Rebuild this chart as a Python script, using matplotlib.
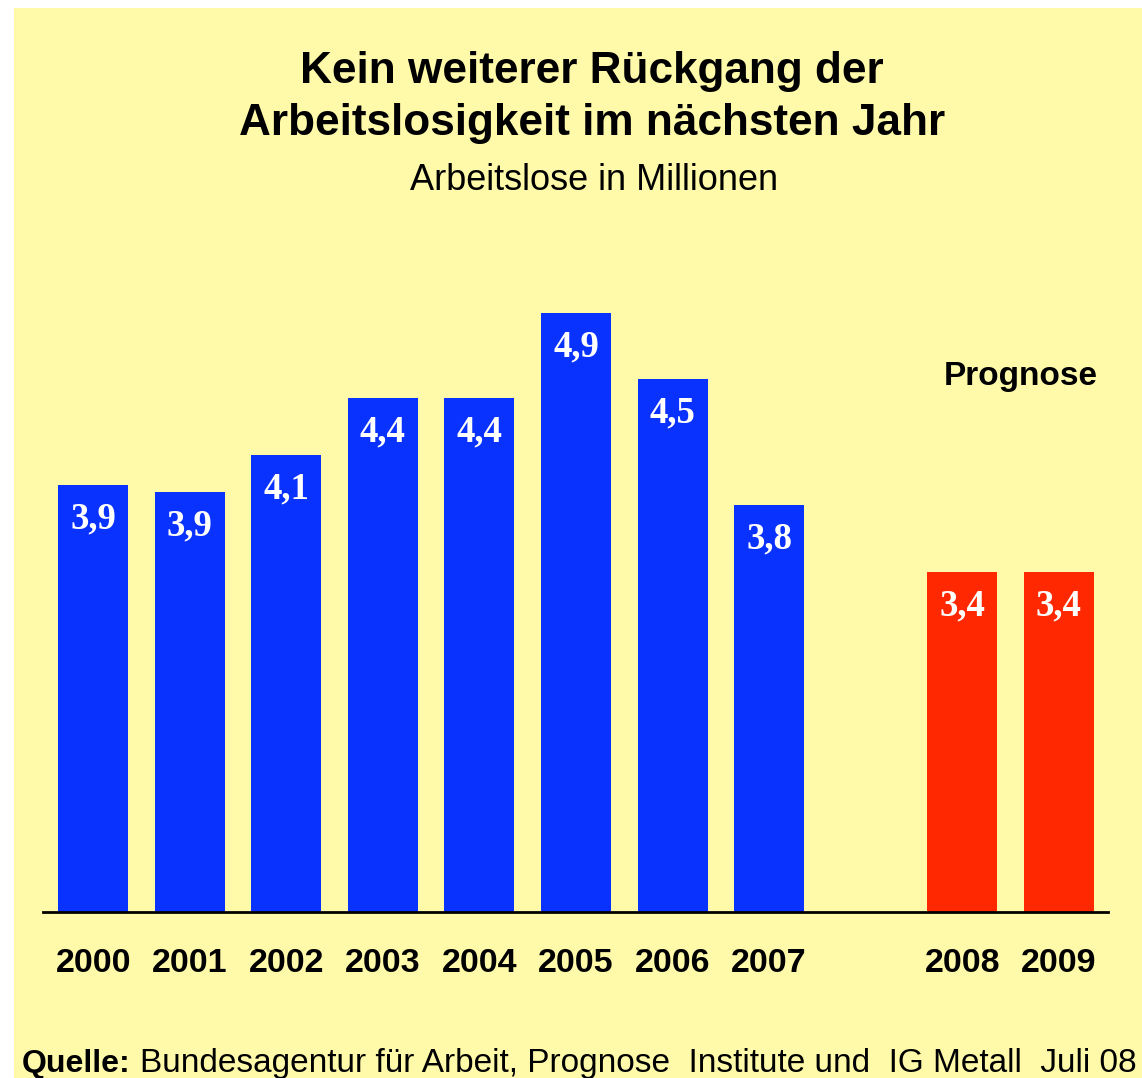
import matplotlib
matplotlib.use("Agg")
import matplotlib.pyplot as plt
from matplotlib.patches import Rectangle

# Arbeitslose in Millionen
years = ['2000', '2001', '2002', '2003', '2004', '2005', '2006', '2007', '2008', '2009']
positions = [0, 1, 2, 3, 4, 5, 6, 7, 9, 10]
values = [3.89, 3.85, 4.06, 4.38, 4.38, 4.86, 4.49, 3.78, 3.40, 3.40]
labels = ['3,9', '3,9', '4,1', '4,4', '4,4', '4,9', '4,5', '3,8', '3,4', '3,4']
is_forecast = [False] * 8 + [True] * 2

bg = '#FFFAAA'
blue = '#0A32FF'
red = '#FF2800'
sans = ['Liberation Sans', 'DejaVu Sans']
serif = ['Liberation Serif', 'DejaVu Serif']

fig = plt.figure(figsize=(11.42, 10.78), dpi=100)
fig.patch.set_facecolor('white')
fig.patches.append(Rectangle((14 / 1142, 0), 1 - 14 / 1142, 1 - 8 / 1078,
                             transform=fig.transFigure, facecolor=bg,
                             edgecolor='none', zorder=-1))

ax = fig.add_axes([43 / 1142, 166 / 1078, 1065 / 1142, 662 / 1078])
ax.set_facecolor('none')
ax.set_zorder(2)

colors = [red if f else blue for f in is_forecast]
bars = ax.bar(positions, values, width=0.725, color=colors, zorder=2)

ax.set_xlim(-0.52, 10.51)
ax.set_ylim(1.482, 1.482 + 662 / 177.3)

for spine in ['top', 'right', 'left']:
    ax.spines[spine].set_visible(False)
ax.spines['bottom'].set_linewidth(2.0)
ax.spines['bottom'].set_zorder(3)
ax.set_yticks([])
ax.set_xticks(positions, years)
ax.tick_params(axis='x', length=0, pad=26)
for lab in ax.get_xticklabels():
    lab.set_fontfamily(sans)
    lab.set_fontweight('bold')
    lab.set_fontsize(24.5)

for x, v, lab in zip(positions, values, labels):
    ax.annotate(lab, xy=(x, v), xytext=(0, -24.5), textcoords='offset points',
                ha='center', va='center', color='white', fontsize=26.5,
                fontweight='bold', family=serif, zorder=4)

ax.text(9.61, 4.5, 'Prognose', ha='center', va='center', fontsize=24,
        fontweight='bold', family=sans)

fig.text(592 / 1142, 1 - 83 / 1078, 'Kein weiterer Rückgang der',
         ha='center', va='baseline', fontsize=31.8, fontweight='bold', family=sans)
fig.text(592 / 1142, 1 - 135 / 1078, 'Arbeitslosigkeit im nächsten Jahr',
         ha='center', va='baseline', fontsize=31.8, fontweight='bold', family=sans)
fig.text(594 / 1142, 1 - 190 / 1078, 'Arbeitslose in Millionen',
         ha='center', va='baseline', fontsize=26, family=sans)

fig.text(22 / 1142, 6 / 1078, 'Quelle:', ha='left', va='baseline',
         fontsize=23, fontweight='bold', family=sans)
fig.text(140 / 1142, 6 / 1078,
         'Bundesagentur für Arbeit, Prognose  Institute und  IG Metall  Juli 08',
         ha='left', va='baseline', fontsize=24, family=sans)

fig.savefig('out.png', dpi=100, facecolor=fig.get_facecolor())
